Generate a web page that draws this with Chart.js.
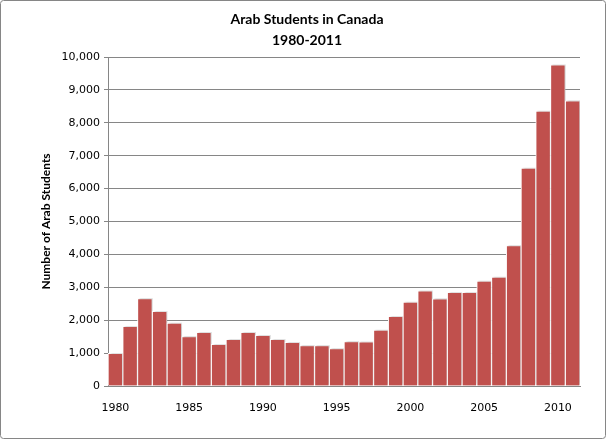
<!DOCTYPE html>
<html>
<head>
<meta charset="utf-8">
<script src="https://cdn.jsdelivr.net/npm/chart.js@4/dist/chart.umd.min.js"></script>
<style>
  html, body { margin: 0; padding: 0; background: #fff; }
  #wrap { width: 606px; height: 440px; position: relative; }
</style>
</head>
<body>
<div id="wrap"><canvas id="studentsChart"></canvas></div>
<script>
// data
const years = [];
for (let y = 1980; y <= 2011; y++) years.push(String(y));
const students = [
    990, 1810, 2660, 2270, 1910, 1500, 1630, 1270, 1420, 1630,
    1540, 1420, 1330, 1230, 1230, 1140, 1350, 1340, 1700, 2120,
    2550, 2890, 2650, 2850, 2850, 3190, 3310, 4270, 6620, 8360,
    9760, 8670
];
const yTicks = [0, 1000, 2000, 3000, 4000, 5000, 6000, 7000, 8000, 9000, 10000];

const frame = {
    id: 'frame',
    afterDraw(chart) {
        const ctx = chart.ctx;
        ctx.save();
        ctx.strokeStyle = '#868686';
        ctx.lineWidth = 1;
        ctx.beginPath();
        ctx.roundRect(0.5, 0.5, chart.width - 1, chart.height - 2, 3);
        ctx.stroke();
        ctx.restore();
    }
};

// faint shadow behind the bars, like the original
const barShadow = {
    id: 'barShadow',
    beforeDatasetsDraw(chart) {
        const ctx = chart.ctx;
        ctx.save();
        ctx.shadowColor = 'rgba(0,0,0,0.18)';
        ctx.shadowBlur = 2;
        ctx.shadowOffsetX = 2;
        ctx.shadowOffsetY = -1;
    },
    afterDatasetsDraw(chart) {
        chart.ctx.restore();
    }
};

const ctx = document.getElementById('studentsChart').getContext('2d');
new Chart(ctx, {
    type: 'bar',
    data: {
        labels: years,
        datasets: [{
            label: 'Arab Students',
            data: students,
            backgroundColor: '#C0504D',
            borderColor: '#ffffff',
            borderWidth: 1,
            barPercentage: 1,
            categoryPercentage: 1
        }]
    },
    options: {
        responsive: true,
        maintainAspectRatio: false,
        animation: false,
        layout: { padding: { left: 34, right: 26, top: 0, bottom: 14 } },
        plugins: {
            legend: { display: false },
            tooltip: { enabled: false },
            title: {
                display: true,
                text: ['Arab Students in Canada', '1980-2011'],
                color: '#000',
                font: { family: 'Lato', size: 14, weight: 'bold', lineHeight: 1.5 },
                padding: { top: 9, bottom: 6 }
            }
        },
        scales: {
            x: {
                grid: { display: false },
                border: { display: true, color: '#868686' },
                ticks: {
                    autoSkip: false,
                    maxRotation: 0,
                    color: '#000',
                    font: { family: 'DejaVu Sans', size: 11 },
                    padding: 8,
                    callback: function (val) {
                        const label = this.getLabelForValue(val);
                        return Number(label) % 5 === 0 ? label : '';
                    }
                },
                afterFit(scale) { scale.height = 40; }
            },
            y: {
                min: 0,
                max: 10000,
                afterBuildTicks(scale) { scale.ticks = yTicks.map(v => ({ value: v })); },
                grid: { color: '#868686', tickLength: 4 },
                border: { display: true, color: '#868686' },
                ticks: {
                    color: '#000',
                    font: { family: 'DejaVu Sans', size: 11 },
                    padding: 4,
                    callback: v => v.toLocaleString('en-US')
                },
                title: {
                    display: true,
                    text: 'Number of Arab Students',
                    color: '#000',
                    font: { family: 'Lato', size: 12, weight: 'bold' },
                    padding: { top: 5, bottom: 0 }
                },
                afterFit(scale) { scale.width = 74; }
            }
        }
    },
    plugins: [frame, barShadow]
});
</script>
</body>
</html>
